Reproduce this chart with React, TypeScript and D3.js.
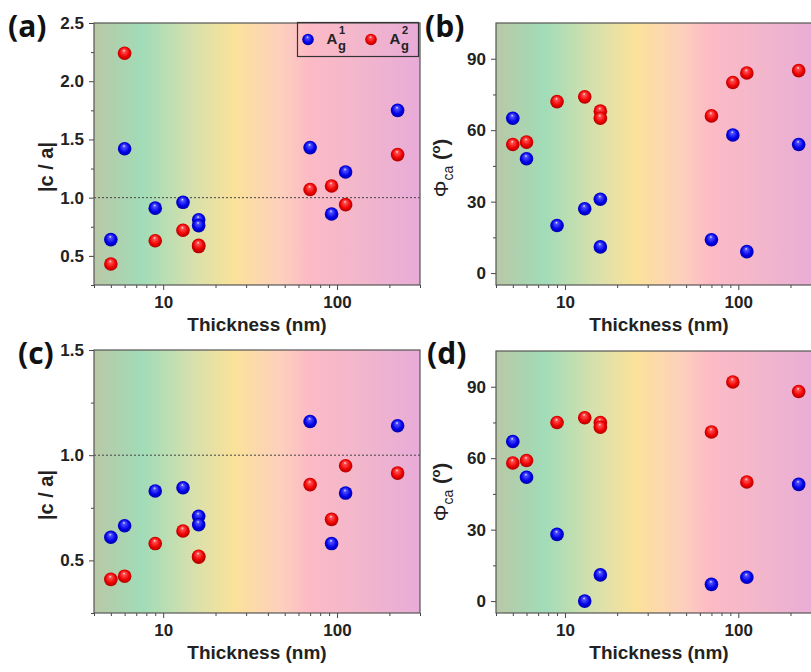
import React, { useEffect, useRef } from "react";
import * as d3 from "d3";

// thickness (nm) of each flake, shared by all four panels
const thickness = [5, 6, 9, 13, 16, 16, 70, 93, 112, 223];

// (a) |c/a| ratio
const aBlue = [0.64, 1.42, 0.91, 0.96, 0.81, 0.76, 1.43, 0.86, 1.22, 1.75];
const aRed = [0.43, 2.24, 0.63, 0.72, 0.58, 0.59, 1.07, 1.1, 0.94, 1.37];
// (b) phase angle
const bBlue = [65, 48, 20, 27, 31, 11, 14, 58, 9, 54];
const bRed = [54, 55, 72, 74, 68, 65, 66, 80, 84, 85];
// (c) |c/a| ratio
const cBlue = [0.61, 0.665, 0.83, 0.845, 0.71, 0.67, 1.16, 0.58, 0.82, 1.14];
const cRed = [0.41, 0.425, 0.58, 0.64, 0.515, 0.52, 0.86, 0.695, 0.95, 0.915];
// (d) phase angle (two blue points not shown)
const dBlue = [67, 52, 28, 0, 11, null, 7, null, 10, 49];
const dRed = [58, 59, 75, 77, 75, 73, 71, 92, 50, 88];

const xMajor = [10, 100];
const xMinor = [4, 5, 6, 7, 8, 9, 20, 30, 40, 50, 60, 70, 80, 90, 200, 300];
const ratioMajor = [0.5, 1.0, 1.5, 2.0, 2.5];
const ratioMinor = [0.25, 0.75, 1.25, 1.75, 2.25];
const angleMajor = [0, 30, 60, 90];
const angleMinor = [15, 45, 75];

const bgStops = [
  [0, "#b9c8a6"],
  [0.15, "#a1dcb8"],
  [0.3, "#d6e0ad"],
  [0.43, "#fbe29a"],
  [0.57, "#fdd0bd"],
  [0.66, "#fcbac5"],
  [0.82, "#f2b6cc"],
  [1, "#e8abd8"],
];

const FONT = "'Liberation Sans', Arial, sans-serif";
const LABELFONT = "'Open Sans', 'Liberation Sans', sans-serif";

function App() {
  const ref = useRef(null);

  useEffect(() => {
    document.body.style.margin = "0";
    document.body.style.overflow = "hidden";
    drawChart();
  }, []);

  const drawChart = () => {
    const svg = d3.select(ref.current);
    svg.selectAll("*").remove();
    const defs = svg.append("defs");

    const bg = defs.append("linearGradient").attr("id", "bg")
      .attr("x1", 0).attr("x2", 1).attr("y1", 0).attr("y2", 0);
    bgStops.forEach(s => bg.append("stop").attr("offset", s[0]).attr("stop-color", s[1]));

    const ball = (id, c) => {
      const g = defs.append("radialGradient").attr("id", id)
        .attr("cx", 0.5).attr("cy", 0.5).attr("r", 0.55)
        .attr("fx", 0.45).attr("fy", 0.28);
      g.append("stop").attr("offset", 0).attr("stop-color", c[0]);
      g.append("stop").attr("offset", 0.18).attr("stop-color", c[1]);
      g.append("stop").attr("offset", 0.65).attr("stop-color", c[2]);
      g.append("stop").attr("offset", 1).attr("stop-color", c[3]);
    };
    ball("blueBall", ["#f0f0ff", "#5050ff", "#0000e8", "#00009a"]);
    ball("redBall", ["#fff0f0", "#ff5050", "#ee0000", "#a00000"]);

    const panels = [
      { label: "(a)", lx: 8, ly: 37, x0: 94, x1: 420, y0: 23, y1: 285, yDom: [0.25, 2.5],
        major: ratioMajor, minor: ratioMinor, blue: aBlue, red: aRed, kind: "ratio", ylx: 53, yly: 167, legend: true },
      { label: "(b)", lx: 425, ly: 37, x0: 496, x1: 821, y0: 23, y1: 285, yDom: [-5, 105],
        major: angleMajor, minor: angleMinor, blue: bBlue, red: bRed, kind: "angle", ylx: 448, yly: 168 },
      { label: "(c)", lx: 18, ly: 364, x0: 94, x1: 420, y0: 350, y1: 613, yDom: [0.25, 1.5],
        major: ratioMajor.slice(0, 3), minor: ratioMinor.slice(0, 3), blue: cBlue, red: cRed, kind: "ratio", ylx: 53, yly: 495 },
      { label: "(d)", lx: 427, ly: 364, x0: 496, x1: 821, y0: 351, y1: 613, yDom: [-5, 105],
        major: angleMajor, minor: angleMinor, blue: dBlue, red: dRed, kind: "angle", ylx: 448, yly: 492 },
    ];

    panels.forEach(p => {
      const x = d3.scaleLog().domain([4, 300]).range([p.x0, p.x1]);
      const y = d3.scaleLinear().domain(p.yDom).range([p.y1, p.y0]);
      const g = svg.append("g");

      g.append("rect")
        .attr("x", p.x0).attr("y", p.y0)
        .attr("width", p.x1 - p.x0).attr("height", p.y1 - p.y0)
        .attr("fill", "url(#bg)");

      if (p.kind === "ratio") {
        g.append("line")
          .attr("x1", p.x0).attr("x2", p.x1)
          .attr("y1", y(1)).attr("y2", y(1))
          .attr("stroke", "#444").attr("stroke-width", 1)
          .attr("stroke-dasharray", "2,2");
      }

      // axes
      const fmt = p.kind === "ratio" ? d3.format(".1f") : d3.format("d");
      const styleAxis = sel => {
        sel.select(".domain").remove();
        sel.selectAll("line").attr("stroke", "#444");
        sel.selectAll("text")
          .attr("fill", "#222")
          .style("font-family", FONT)
          .style("font-weight", "bold")
          .style("font-size", "17px");
      };
      g.append("g").attr("transform", `translate(${p.x0},0)`)
        .call(d3.axisLeft(y).tickValues(p.minor).tickSize(3).tickFormat(""))
        .call(styleAxis);
      g.append("g").attr("transform", `translate(${p.x0},0)`)
        .call(d3.axisLeft(y).tickValues(p.major).tickSize(5).tickPadding(5).tickFormat(fmt))
        .call(styleAxis);
      g.append("g").attr("transform", `translate(0,${p.y1})`)
        .call(d3.axisBottom(x).tickValues(xMinor).tickSize(3).tickFormat(""))
        .call(styleAxis);
      g.append("g").attr("transform", `translate(0,${p.y1})`)
        .call(d3.axisBottom(x).tickValues(xMajor).tickSize(5).tickPadding(6).tickFormat(d3.format("d")))
        .call(styleAxis);

      // frame
      g.append("rect")
        .attr("x", p.x0).attr("y", p.y0)
        .attr("width", p.x1 - p.x0).attr("height", p.y1 - p.y0)
        .attr("fill", "none").attr("stroke", "#555").attr("stroke-width", 1.2);

      // points
      const pts = (vals, fill) => {
        g.selectAll(null)
          .data(thickness.map((t, i) => ({ t, v: vals[i] })).filter(d => d.v != null))
          .enter().append("circle")
          .attr("cx", d => x(d.t)).attr("cy", d => y(d.v))
          .attr("r", 6.8).attr("fill", fill);
      };
      pts(p.blue, "url(#blueBall)");
      pts(p.red, "url(#redBall)");

      // titles
      g.append("text")
        .attr("x", (p.x0 + 420 - 94 + p.x0) / 2).attr("y", p.y1 + 46)
        .attr("text-anchor", "middle")
        .style("font-family", FONT).style("font-weight", "bold").style("font-size", "19px")
        .attr("fill", "#222")
        .text("Thickness (nm)");

      const yl = g.append("text")
        .attr("transform", `translate(${p.ylx},${p.yly}) rotate(-90)`)
        .attr("text-anchor", "middle")
        .style("font-family", FONT).style("font-size", "20px").attr("fill", "#222");
      if (p.kind === "ratio") {
        yl.style("font-weight", "bold").text("|c / a|");
      } else {
        yl.append("tspan").style("font-size", "21px").text("Φ");
        yl.append("tspan").attr("dy", 5).style("font-size", "14px").text("ca");
        yl.append("tspan").attr("dy", -5).style("font-weight", "bold").text(" (");
        yl.append("tspan").attr("dy", -8).style("font-size", "13px").style("font-weight", "bold").text("o");
        yl.append("tspan").attr("dy", 8).style("font-weight", "bold").text(")");
      }

      g.append("text")
        .attr("x", p.lx).attr("y", p.ly)
        .style("font-family", LABELFONT).style("font-weight", "700").style("font-size", "30px")
        .attr("fill", "#111")
        .text(p.label);

      if (p.legend) {
        const lg = g.append("g");
        lg.append("rect")
          .attr("x", 297.5).attr("y", 22.5).attr("width", 121).attr("height", 34)
          .attr("fill", "none").attr("stroke", "#333").attr("stroke-width", 1.2);
        const items = [
          { cx: 308, tx: 332, sup: "1", fill: "url(#blueBall)" },
          { cx: 371, tx: 395, sup: "2", fill: "url(#redBall)" },
        ];
        items.forEach(it => {
          lg.append("circle").attr("cx", it.cx).attr("cy", 39.5).attr("r", 5.8).attr("fill", it.fill);
          const t = (tx, ty, s, txt) => lg.append("text")
            .attr("x", tx).attr("y", ty).attr("text-anchor", "middle")
            .style("font-family", FONT).style("font-weight", "bold").style("font-size", s)
            .attr("fill", "#222").text(txt);
          t(it.tx, 43.5, "15px", "A");
          t(it.tx + 10, 34, "11px", it.sup);
          t(it.tx + 10, 49.5, "13px", "g");
        });
      }
    });
  };

  return (
    <svg ref={ref} width={811} height={672}
      style={{ position: "absolute", left: 0, top: 0, background: "#fff" }} />
  );
}

export default App;
